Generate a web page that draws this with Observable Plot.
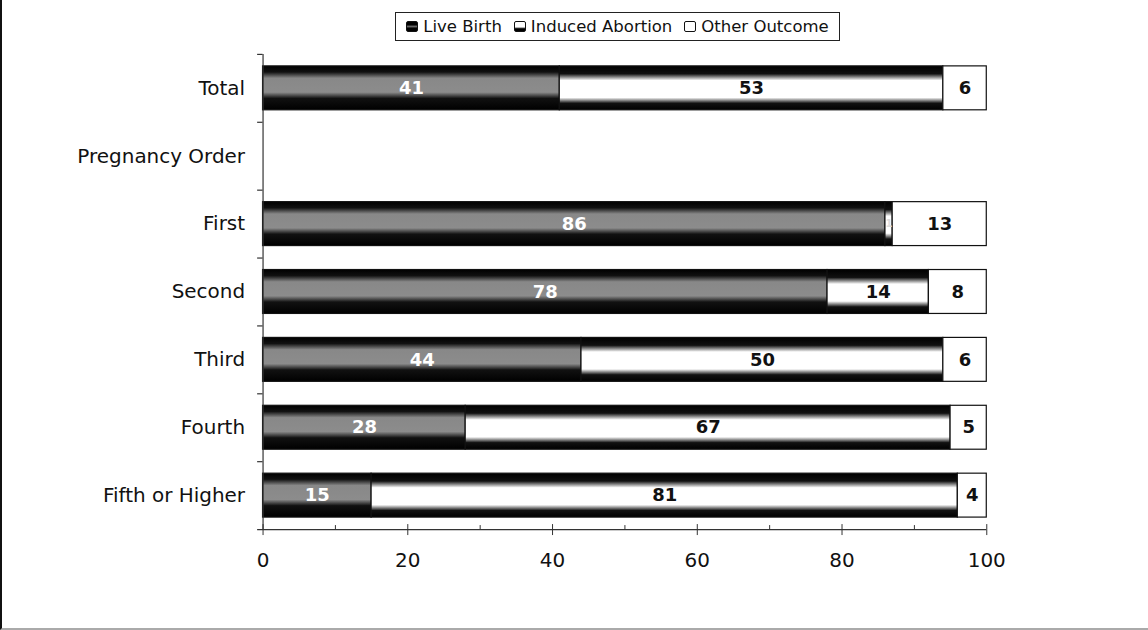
<!DOCTYPE html>
<html>
<head>
<meta charset="utf-8">
<script src="https://cdn.jsdelivr.net/npm/d3@7"></script>
<script src="https://cdn.jsdelivr.net/npm/@observablehq/plot@0.6"></script>
<style>
  html, body { margin: 0; padding: 0; background: #fff; }
  #page { position: relative; width: 1146px; height: 628px; border-left: 2px solid #111; border-bottom: 2px solid #aaa; background: #fff; overflow: hidden; }
  #legend { position: absolute; left: 393px; top: 12px; width: 443px; height: 27px; border: 1.5px solid #222; box-sizing: content-box;
    font-family: "DejaVu Sans", sans-serif; font-size: 16.5px; color: #111; display: flex; align-items: center; justify-content: center; gap: 12px; }
  .item { display: flex; align-items: center; gap: 5px; white-space: nowrap; }
  .sw { width: 12px; height: 11px; border: 1.5px solid #111; border-radius: 2px; box-sizing: border-box; }
  #chart { position: absolute; left: -2px; top: 0; }
</style>
</head>
<body>
<div id="page">
  <div id="chart"></div>
  <div id="legend"></div>
</div>
<script>
const categories = ["Total", "Pregnancy Order", "First", "Second", "Third", "Fourth", "Fifth or Higher"];
const outcomes = ["Live Birth", "Induced Abortion", "Other Outcome"];
const liveBirth = [41, null, 86, 78, 44, 28, 15];
const inducedAbortion = [53, null, 1, 14, 50, 67, 81];
const otherOutcome = [6, null, 13, 8, 6, 5, 4];
const xTicks = [0, 20, 40, 60, 80, 100];
const xMinorTicks = [10, 30, 50, 70, 90];

const series = [liveBirth, inducedAbortion, otherOutcome];
const data = [];
categories.forEach((c, i) => {
  outcomes.forEach((o, j) => {
    const v = series[j][i];
    if (v != null) data.push({category: c, outcome: o, value: v});
  });
});

const fills = ["url(#gLive)", "url(#gAbort)", "#ffffff"];

const legend = document.getElementById("legend");
const swatchStyles = [
  "background: linear-gradient(#000 0%, #000 30%, #666 50%, #000 70%, #000 100%);",
  "background: linear-gradient(#fff 0%, #fff 55%, #000 75%, #000 100%);",
  "background: #fff;"
];
outcomes.forEach((o, j) => {
  const it = document.createElement("div");
  it.className = "item";
  it.innerHTML = `<span class="sw" style="${swatchStyles[j]}"></span><span>${o}</span>`;
  legend.appendChild(it);
});

const step = 68;
const plot = Plot.plot({
  width: 1150,
  height: 630,
  marginLeft: 263,
  marginRight: 162,
  marginTop: 54,
  marginBottom: 100,
  style: {fontFamily: "DejaVu Sans, sans-serif", background: "white", color: "#111"},
  x: {domain: [0, 100], axis: null},
  y: {domain: categories, paddingInner: 0.35, paddingOuter: 0.175, axis: null},
  color: {domain: outcomes, range: fills},
  marks: [
    Plot.barX(data, Plot.stackX({
      y: "category", x: "value", fill: "outcome", z: "outcome", order: outcomes,
      stroke: "#111", strokeWidth: 1.2
    })),
    Plot.text(data, Plot.stackX({
      y: "category", x: "value", z: "outcome", order: outcomes,
      text: d => String(d.value),
      fill: d => d.outcome === "Live Birth" ? "#fff" : (d.value <= 2 ? "#ddd" : "#111"),
      fontSize: d => d.value <= 2 ? 10 : 18,
      fontWeight: "bold", fontFamily: "DejaVu Sans, Verdana, sans-serif"
    })),
    // y axis line
    Plot.ruleX([0], {stroke: "#333", strokeWidth: 1.2}),
    // y ticks at category boundaries
    Plot.ruleY(categories, {y: d => d, x1: -0.75, x2: 0, dy: -step / 2, stroke: "#333", strokeWidth: 1.2}),
    Plot.ruleY([categories[categories.length - 1]], {y: d => d, x1: -0.75, x2: 100, dy: step / 2, stroke: "#333", strokeWidth: 1.2}),
    // y labels
    Plot.axisY({tickSize: 0, tickPadding: 18, fontSize: 20, label: null}),
    // x ticks
    Plot.axisX(xTicks, {tickSize: 11, dy: -5, tickFormat: () => "", stroke: "#333", label: null}),
    Plot.axisX(xMinorTicks, {tickSize: 4, dy: -4, tickFormat: () => "", stroke: "#333", label: null}),
    Plot.axisX(xTicks, {tickSize: 0, tickPadding: 23, fontSize: 20, label: null})
  ]
});

const ns = "http://www.w3.org/2000/svg";
const defs = document.createElementNS(ns, "defs");
defs.innerHTML = `
  <linearGradient id="gLive" x1="0" y1="0" x2="0" y2="1">
    <stop offset="0" stop-color="#000"/>
    <stop offset="0.14" stop-color="#111"/>
    <stop offset="0.28" stop-color="#888"/>
    <stop offset="0.60" stop-color="#8c8c8c"/>
    <stop offset="0.74" stop-color="#111"/>
    <stop offset="1" stop-color="#000"/>
  </linearGradient>
  <linearGradient id="gAbort" x1="0" y1="0" x2="0" y2="1">
    <stop offset="0" stop-color="#000"/>
    <stop offset="0.18" stop-color="#111"/>
    <stop offset="0.33" stop-color="#fff"/>
    <stop offset="0.72" stop-color="#fff"/>
    <stop offset="0.85" stop-color="#111"/>
    <stop offset="1" stop-color="#000"/>
  </linearGradient>`;
plot.insertBefore(defs, plot.firstChild);
document.getElementById("chart").appendChild(plot);
</script>
</body>
</html>
